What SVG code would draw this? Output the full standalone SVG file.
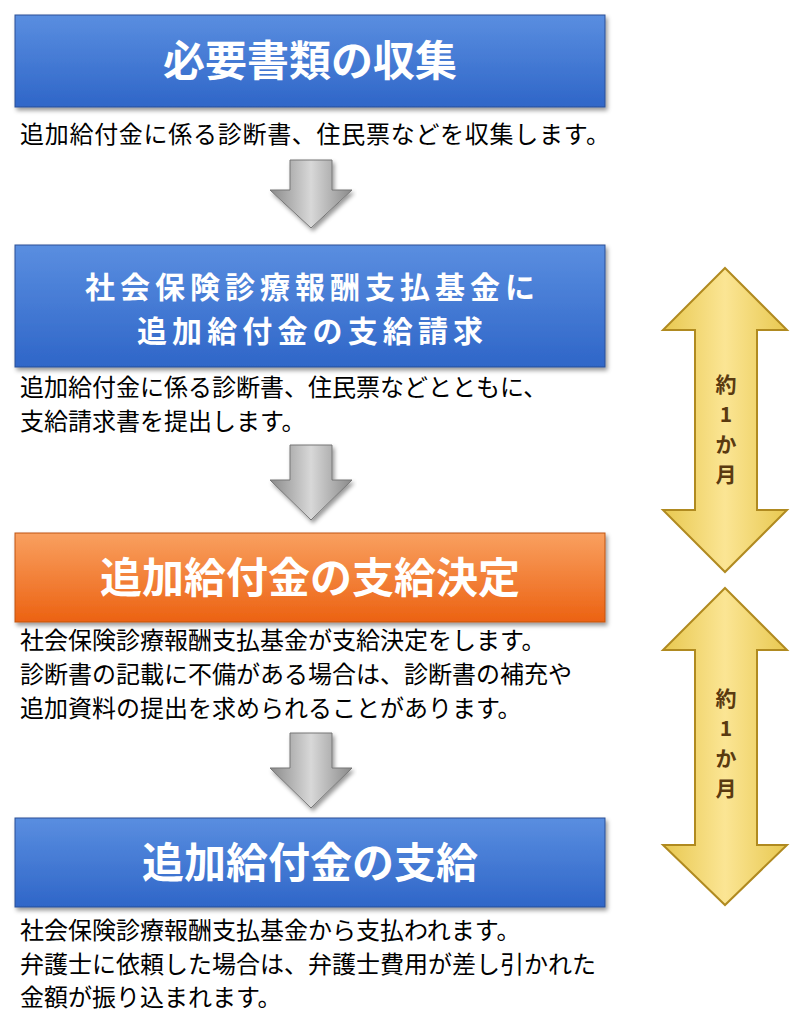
<svg xmlns="http://www.w3.org/2000/svg" width="795" height="1024" viewBox="0 0 795 1024">
<defs>
<linearGradient id="blue" x1="0" y1="0" x2="0" y2="1"><stop offset="0" stop-color="#5a8ee0"/><stop offset="1" stop-color="#2f66c8"/></linearGradient>
<linearGradient id="orange" x1="0" y1="0" x2="0" y2="1"><stop offset="0" stop-color="#f9a060"/><stop offset="1" stop-color="#ec6212"/></linearGradient>
<linearGradient id="gray" x1="0" y1="0" x2="1" y2="0"><stop offset="0" stop-color="#8a8a8a"/><stop offset="0.5" stop-color="#d8d8d8"/><stop offset="1" stop-color="#8a8a8a"/></linearGradient>
<linearGradient id="gold" x1="0" y1="0" x2="1" y2="0"><stop offset="0" stop-color="#e8c850"/><stop offset="0.5" stop-color="#fbe594"/><stop offset="1" stop-color="#e8c850"/></linearGradient>
<filter id="sh" x="-5%" y="-10%" width="110%" height="130%"><feDropShadow dx="2" dy="3" stdDeviation="2" flood-opacity="0.4"/></filter>
</defs>
<style>
.box{filter:url(#sh);stroke:#2a4f96;stroke-width:1}
.t{font-family:"Noto Sans CJK JP",sans-serif;font-weight:bold;fill:#fff;text-anchor:middle}
.b{font-family:"Noto Sans CJK JP",sans-serif;font-size:24px;fill:#000}
.ga{fill:url(#gray);stroke:#777;stroke-width:1;filter:url(#sh)}
.da{fill:url(#gold);stroke:#b08a20;stroke-width:2}
.dt{font-family:"Noto Sans CJK JP",sans-serif;font-size:21px;font-weight:bold;fill:#5a3a10;text-anchor:middle}
</style>
<rect width="795" height="1024" fill="#fff"/>
<g id="n1"><rect class="box" x="15" y="15" width="590" height="92" fill="url(#blue)"/><text class="t" x="310" y="76" font-size="42">必要書類の収集</text>
<text class="b" x="20" y="143" textLength="590">追加給付金に係る診断書、住民票などを収集します。</text></g>
<g id="n2"><rect class="box" x="15" y="245" width="590" height="122" fill="url(#blue)"/><text class="t" x="310" y="298" font-size="30" textLength="450">社会保険診療報酬支払基金に</text><text class="t" x="310" y="342" font-size="30" textLength="346">追加給付金の支給請求</text>
<text class="b" x="20" y="396">追加給付金に係る診断書、住民票などとともに、</text><text class="b" x="20" y="430">支給請求書を提出します。</text></g>
<g id="n3"><rect class="box" x="15" y="533" width="590" height="89" fill="url(#orange)" style="stroke:#c0550f"/><text class="t" x="310" y="593" font-size="42">追加給付金の支給決定</text>
<text class="b" x="20" y="649">社会保険診療報酬支払基金が支給決定をします。</text><text class="b" x="20" y="683">診断書の記載に不備がある場合は、診断書の補充や</text><text class="b" x="20" y="717">追加資料の提出を求められることがあります。</text></g>
<g id="n4"><rect class="box" x="15" y="818" width="590" height="89" fill="url(#blue)"/><text class="t" x="310" y="878" font-size="42">追加給付金の支給</text>
<text class="b" x="20" y="939">社会保険診療報酬支払基金から支払われます。</text><text class="b" x="20" y="973">弁護士に依頼した場合は、弁護士費用が差し引かれた</text><text class="b" x="20" y="1006">金額が振り込まれます。</text></g>
<g id="connectors">
<path class="ga" d="M290 160H332V190H352L311 228L270 190H290Z"/>
<path class="ga" d="M290 445H332V480H352L311 520L270 480H290Z"/>
<path class="ga" d="M290 733H332V768H352L311 808L270 768H290Z"/>
</g>
<g id="d1"><path class="da" d="M725 268L787 330H757V510H787L725 572L663 510H695V330H663Z"/>
<text class="dt" x="726" y="392">約</text><text class="dt" x="726" y="422">1</text><text class="dt" x="726" y="452">か</text><text class="dt" x="726" y="482">月</text></g>
<g id="d2"><path class="da" d="M725 588L787 650H757V845H787L725 905L663 845H695V650H663Z"/>
<text class="dt" x="726" y="706">約</text><text class="dt" x="726" y="736">1</text><text class="dt" x="726" y="766">か</text><text class="dt" x="726" y="796">月</text></g>
</svg>
